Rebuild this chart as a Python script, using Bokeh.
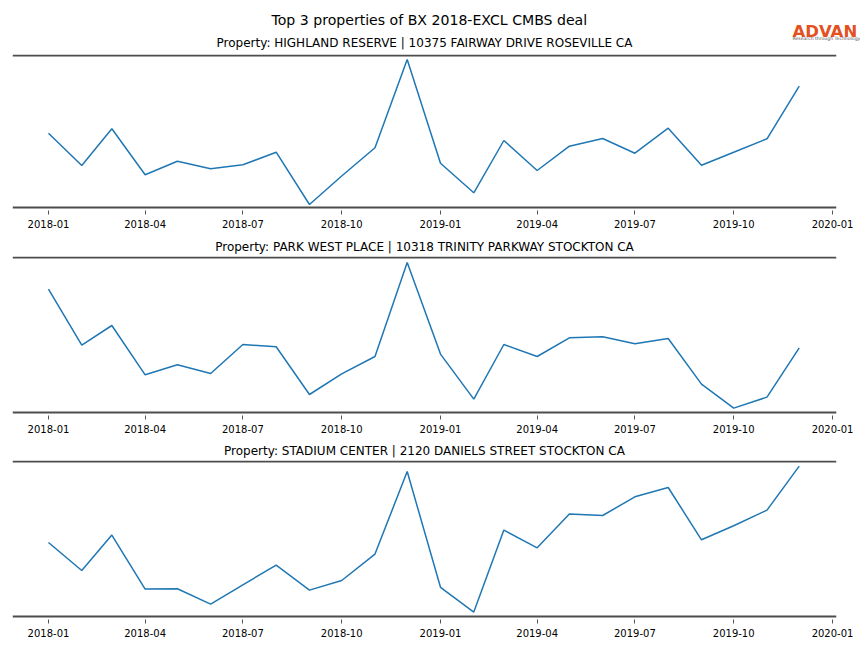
import pandas as pd
from bokeh.plotting import figure
from bokeh.models import Range1d, Span, MonthsTicker, DatetimeTickFormatter
from bokeh.core.properties import value
from bokeh.layouts import column
from bokeh.embed import file_html
from bokeh.resources import INLINE

# ---------------- data ----------------
month_labels = ["2018-01", "2018-02", "2018-03", "2018-04", "2018-05", "2018-06",
                "2018-07", "2018-08", "2018-09", "2018-10", "2018-11", "2018-12",
                "2019-01", "2019-02", "2019-03", "2019-04", "2019-05", "2019-06",
                "2019-07", "2019-08", "2019-09", "2019-10", "2019-11", "2019-12"]

highland_reserve = [74.3, 42.0, 78.7, 32.7, 46.3, 38.7, 42.7, 55.3, 3.0, 31.5, 59.7, 148.0,
                    44.3, 14.7, 67.0, 37.0, 61.3, 69.0, 54.3, 79.3, 42.3, 55.3, 68.7, 121.3]
park_west_place = [123.4, 67.4, 87.0, 37.7, 47.7, 39.0, 68.0, 65.7, 18.0, 38.7, 56.0, 150.0,
                   58.4, 13.4, 68.0, 56.0, 74.7, 75.7, 68.7, 74.0, 28.4, 4.4, 15.4, 64.7]
stadium_center = [74.0, 46.0, 81.4, 27.4, 27.7, 12.4, 31.7, 51.4, 26.4, 36.0, 62.4, 145.0,
                  29.2, 4.4, 86.4, 68.7, 102.4, 101.0, 119.7, 129.0, 76.7, 90.7, 106.4, 150.4]

panel_titles = [
    "Property: HIGHLAND RESERVE | 10375 FAIRWAY DRIVE ROSEVILLE CA",
    "Property: PARK WEST PLACE | 10318 TRINITY PARKWAY STOCKTON CA",
    "Property: STADIUM CENTER | 2120 DANIELS STREET STOCKTON CA",
]
suptitle = "Top 3 properties of BX 2018-EXCL CMBS deal"
logo_text = "ADVAN"
logo_sub = "Research through Technology"

# ---------------- layout ----------------
dates = pd.to_datetime(month_labels, format="%Y-%m")
x0 = pd.Timestamp("2017-11-28 12:00")
x1 = pd.Timestamp("2020-01-04 17:00")

FONT = "DejaVu Sans"
SPINE = "#4d4d4d"
LINE = "#1f77b4"
W = 860
BL, BR = 12, 24
HEADER_H = 50


def make_panel(title, vals, spine_top, border_top, frame_h, border_bottom):
    p = figure(width=W, height=border_top + frame_h + border_bottom,
               x_axis_type="datetime",
               x_range=Range1d(x0, x1),
               y_range=Range1d(-3, frame_h - 3),
               output_backend="svg", toolbar_location=None,
               y_axis_location=None, title=title,
               min_border_left=BL, min_border_right=BR,
               min_border_top=border_top, min_border_bottom=border_bottom)
    p.outline_line_color = None
    p.grid.visible = False
    p.background_fill_color = "white"
    p.border_fill_color = "white"

    if title is not None:
        p.title.align = "center"
        p.title.text_font = FONT
        p.title.text_font_size = "12px"
        p.title.text_font_style = "normal"
        p.title.text_color = "black"
        p.title.standoff = 6

    ax = p.xaxis[0]
    ax.ticker = MonthsTicker(months=[0, 3, 6, 9])
    fmt = "%Y-%m"
    ax.formatter = DatetimeTickFormatter(days=fmt, months=fmt, years=fmt, hours=fmt)
    ax.axis_line_color = None
    ax.major_tick_in = 0
    ax.major_tick_out = 4
    ax.major_tick_line_color = "#555555"
    ax.minor_tick_line_color = None
    ax.major_label_standoff = 5
    ax.major_label_text_font = FONT
    ax.major_label_text_font_size = "10px"
    ax.major_label_text_color = "black"

    p.add_layout(Span(location=0, dimension="width", line_color=SPINE, line_width=2))
    p.add_layout(Span(location=spine_top, dimension="width", line_color=SPINE, line_width=2))

    p.line(dates, vals, line_color=LINE, line_width=1.5)
    return p


# header: figure title, logo and the first panel's title
hdr = figure(width=W, height=HEADER_H, x_range=Range1d(0, W), y_range=Range1d(HEADER_H, 0),
             output_backend="svg", toolbar_location=None,
             x_axis_location=None, y_axis_location=None,
             min_border_left=0, min_border_right=0, min_border_top=0, min_border_bottom=0)
try:
    hdr.frame_align = False
except Exception:
    pass
hdr.outline_line_color = None
hdr.grid.visible = False
hdr.text(x=[271], y=[19], text=[suptitle], text_align="left", text_baseline="middle",
         text_font=value(FONT), text_font_size="14.1px", text_color="black")
hdr.text(x=[792], y=[31], text=[logo_text], text_align="left", text_baseline="alphabetic",
         text_font=value(FONT), text_font_size="16.5px", text_font_style="bold",
         text_color="#E2511F")
hdr.text(x=[792], y=[37.5], text=[logo_sub], text_align="left", text_baseline="middle",
         text_font=value(FONT), text_font_size="4.6px", text_color="#555555")
hdr.text(x=[216], y=[42], text=[panel_titles[0]], text_align="left",
         text_baseline="middle", text_font=value(FONT), text_font_size="12px",
         text_color="black")

p1 = make_panel(None, highland_reserve, 152, 4, 156, 23)
p2 = make_panel(panel_titles[1], park_west_place, 155, 23, 159, 23)
p3 = make_panel(panel_titles[2], stadium_center, 155, 22, 159, 23)

layout = column(hdr, p1, p2, p3, spacing=0)
open("out.html", "w").write(file_html(layout, INLINE))
